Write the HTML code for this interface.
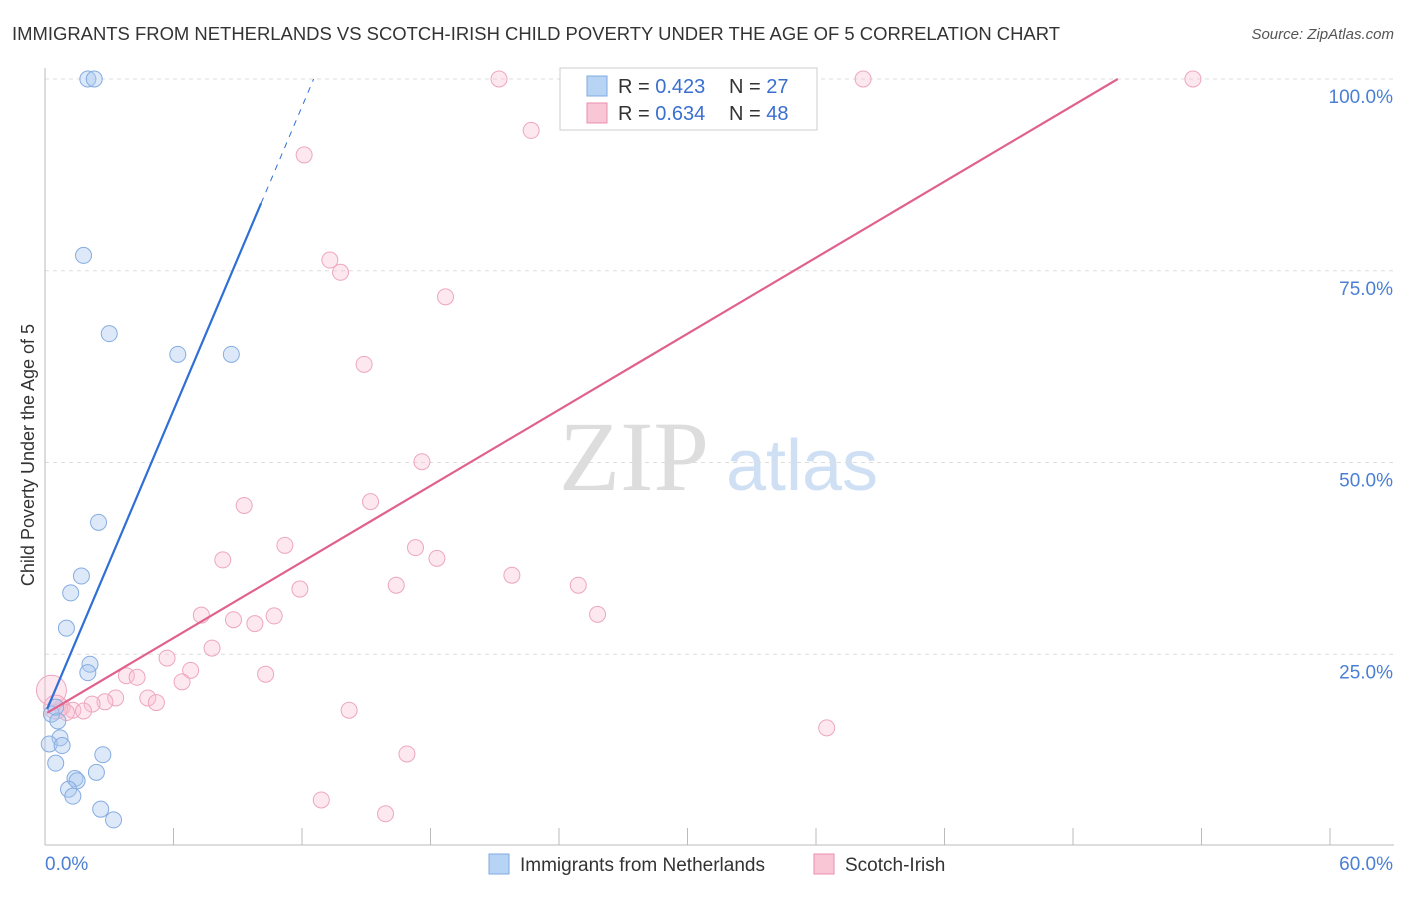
<!DOCTYPE html>
<html><head><meta charset="utf-8"><style>
body{margin:0;background:#fff;font-family:"Liberation Sans",sans-serif}
</style></head><body>
<svg id="c" width="1406" height="892" style="font-family:'Liberation Sans',sans-serif">
<text x="12" y="40" font-size="18" fill="#333" textLength="1048" lengthAdjust="spacingAndGlyphs">IMMIGRANTS FROM NETHERLANDS VS SCOTCH-IRISH CHILD POVERTY UNDER THE AGE OF 5 CORRELATION CHART</text>
<text x="1394" y="39" font-size="15" fill="#555" font-style="italic" text-anchor="end">Source: ZipAtlas.com</text>
<text x="634" y="490" font-size="100" fill="#ddd" style="font-family:'Liberation Serif',serif" text-anchor="middle">ZIP</text>
<text x="802" y="490" font-size="72" fill="#cfe0f4" text-anchor="middle">atlas</text>
<text transform="translate(34,455) rotate(-90)" font-size="18" fill="#333" text-anchor="middle">Child Poverty Under the Age of 5</text>
<g id="grid"></g><g id="marks"></g>
<g>
<rect x="560" y="68" width="257" height="62" fill="#fff" stroke="#ccc"/>
<rect x="587" y="76" width="20" height="20" fill="#b8d4f5" stroke="#7fa9e0"/>
<text x="618" y="93" font-size="20" fill="#333">R = <tspan fill="#3a6fd0">0.423</tspan></text>
<text x="729" y="93" font-size="20" fill="#333">N = <tspan fill="#3a6fd0">27</tspan></text>
<rect x="587" y="103" width="20" height="20" fill="#f9c6d6" stroke="#e890ad"/>
<text x="618" y="120" font-size="20" fill="#333">R = <tspan fill="#3a6fd0">0.634</tspan></text>
<text x="729" y="120" font-size="20" fill="#333">N = <tspan fill="#3a6fd0">48</tspan></text>
</g>
<g>
<rect x="489" y="854" width="20" height="20" fill="#b8d4f5" stroke="#7fa9e0"/>
<text x="520" y="871" font-size="19" fill="#333">Immigrants from Netherlands</text>
<rect x="814" y="854" width="20" height="20" fill="#f9c6d6" stroke="#e890ad"/>
<text x="845" y="871" font-size="19" fill="#333">Scotch-Irish</text>
</g>
</svg>
<script>
const yTicks=[25,50,75,100];
const xTickLabels=["0.0%","60.0%"];
const blueX=[2.0,2.3,1.8,3.0,6.2,8.7,2.5,1.7,1.2,1.0,2.1,2.0,0.3,0.6,0.7,0.2,0.8,0.5,2.7,2.4,1.4,1.5,1.1,1.3,2.6,3.2,0.5];
const blueY=[100,100,77.0,66.8,64.1,64.1,42.2,35.2,33.0,28.4,23.7,22.6,17.2,16.3,14.1,13.3,13.1,10.8,11.9,9.6,8.8,8.5,7.4,6.5,4.8,3.4,18.1];
const pinkX=[21.2,38.2,53.6,22.7,12.1,13.3,13.8,18.7,14.9,17.6,9.3,15.2,11.2,17.3,8.3,18.3,21.8,16.4,24.9,11.9,25.8,7.3,8.8,10.7,9.8,7.8,5.7,6.8,6.4,10.3,3.8,4.3,4.8,3.3,2.8,2.2,5.2,0.8,1.3,1.8,0.3,14.2,36.5,16.9,12.9,15.9,0.5,1.0];
const pinkY=[100,100,100,93.3,90.1,76.4,74.8,71.6,62.8,50.1,44.4,44.9,39.2,38.9,37.3,37.5,35.3,34.0,34.0,33.5,30.2,30.1,29.5,30.0,29.0,25.8,24.5,22.9,21.4,22.4,22.2,22.0,19.3,19.3,18.8,18.5,18.7,18.1,17.7,17.6,20.3,17.7,15.4,12.0,6.0,4.2,18.1,17.4];
const pinkR=[8,8,8,8,8,8,8,8,8,8,8,8,8,8,8,8,8,8,8,8,8,8,8,8,8,8,8,8,8,8,8,8,8,8,8,8,8,8,8,8,15,8,8,8,8,8,12,8];
const blueLine=[17.2,6.6], pinkLine=[17.2,1.653];
const X=v=>45+v*1285/60, Y=v=>846-v*7.67;
const NS="http://www.w3.org/2000/svg";
function mk(t,a,p){const e=document.createElementNS(NS,t);for(const k in a)e.setAttribute(k,a[k]);p.appendChild(e);return e;}
const g=document.getElementById('grid'), m=document.getElementById('marks');
yTicks.forEach(t=>{
 const l=mk('line',{x1:45,x2:1394,y1:Y(t),y2:Y(t),stroke:'#ddd','stroke-dasharray':'4,4'},g);
 
 
 const tx=mk('text',{x:1393,y:Y(t)+24,'font-size':19,fill:'#4a7fd4','text-anchor':'end'},g);tx.textContent=t.toFixed(1)+'%';
 
 
});
const ax=mk('line',{x1:45,x2:1394,y1:845,y2:845,stroke:'#bbb'},g);


const ay=mk('line',{x1:45,x2:45,y1:68,y2:845,stroke:'#bbb'},g);


for(let k=0;k<=10;k++){const t=mk('line',{x1:X(k*6),x2:X(k*6),y1:828,y2:845,stroke:'#bbb'},g);
 
 }
xTickLabels.forEach((s,i)=>{const t=mk('text',{x:i?1393:45,y:870,'font-size':19,fill:'#4a7fd4','text-anchor':i?'end':'start'},g);t.textContent=s;
 
 });
pinkX.forEach((x,i)=>{const c=mk('circle',{cx:X(x),cy:Y(pinkY[i]),r:pinkR[i],fill:'rgba(248,190,210,0.35)',stroke:'#eda6be','stroke-width':1},m);
 
 });
blueX.forEach((x,i)=>{const c=mk('circle',{cx:X(x),cy:Y(blueY[i]),r:8,fill:'rgba(170,200,240,0.4)',stroke:'#85ace0','stroke-width':1},m);
 
 });
const bx1=(83.8-blueLine[0])/blueLine[1], bx2=(100-blueLine[0])/blueLine[1];
const b1=mk('line',{x1:X(0.1),y1:Y(blueLine[0]+blueLine[1]*0.1),x2:X(bx1),y2:Y(83.8),stroke:'#2f6fd6','stroke-width':2.2},m);


const b2=mk('line',{x1:X(bx1),y1:Y(83.8),x2:X(bx2),y2:Y(100),stroke:'#2f6fd6','stroke-width':1,'stroke-dasharray':'6,6'},m);


const px2=(100-pinkLine[0])/pinkLine[1];
const p1=mk('line',{x1:X(0.1),y1:Y(pinkLine[0]+pinkLine[1]*0.1),x2:X(px2),y2:Y(100),stroke:'#e0608e','stroke-width':2.2},m);


</script>
</body></html>
